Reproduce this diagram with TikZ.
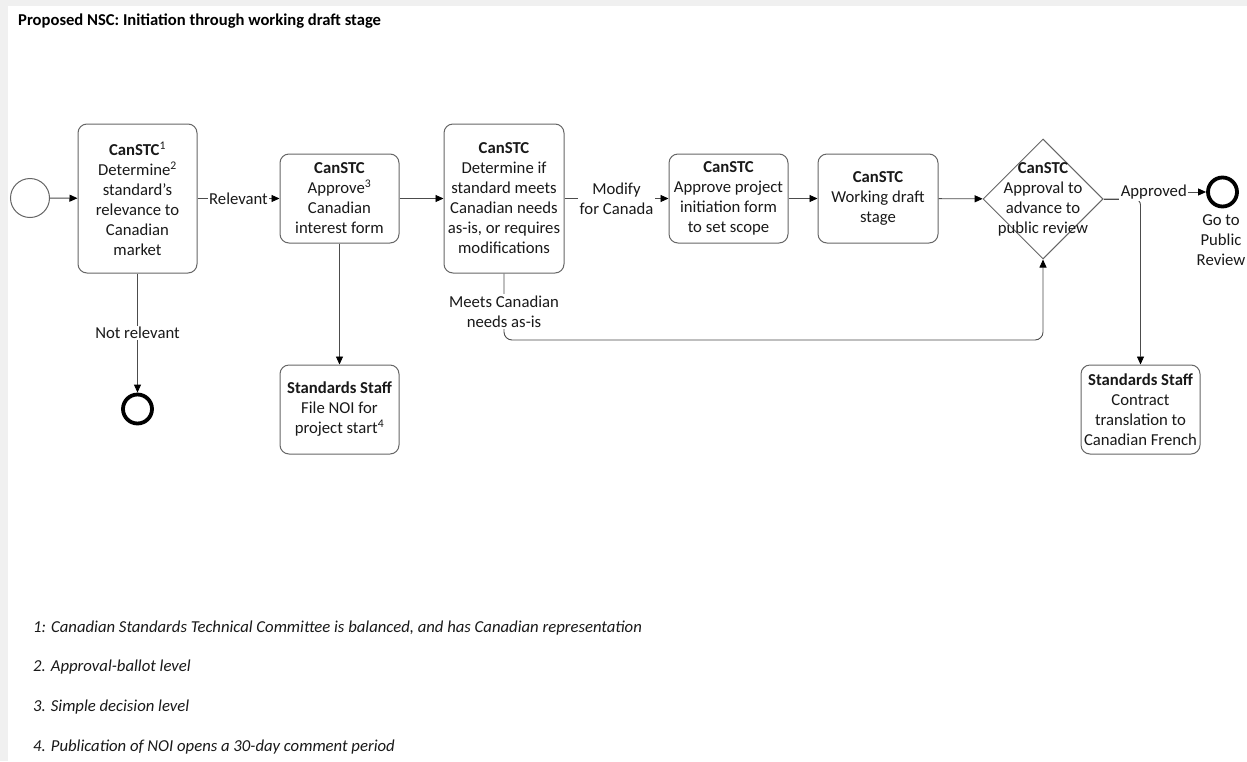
\documentclass[tikz,border=0pt]{standalone}
\usepackage{fontspec}
\setmainfont{Carlito}
\usetikzlibrary{arrows.meta,shapes.geometric}
\newcommand\mainfs{\fontsize{16.7}{20}\selectfont}
\tikzset{
  box/.style={draw=black!60, line width=1pt, rounded corners=9pt, fill=white,
    align=center, font=\mainfs, inner sep=0pt, text=black!90},
  lbl/.style={fill=white, inner sep=1.5pt, align=center, font=\mainfs, text=black!90},
  conn/.style={draw=black!70, line width=0.9pt},
  arr/.style={conn, -{Triangle[length=8pt,width=7pt,color=black]}},
  endev/.style={circle, draw=black, line width=3.8pt, minimum size=29pt, inner sep=0pt},
}
\begin{document}
\begin{tikzpicture}[x=1pt,y=-1pt]
\useasboundingbox (0,0) rectangle (1247,761);
\fill[black!6] (0,0) rectangle (1247,761);
\fill[white] (8,6) rectangle (1247,761);

\node[anchor=west, font=\fontsize{16.6}{19}\selectfont\bfseries, inner sep=1pt] (title) at (17,21) {Proposed NSC: Initiation through working draft stage};

% nodes
\node[circle, draw=black!60, line width=1pt, minimum size=39pt, inner sep=0pt] (s) at (30,198) {};
\node[box, minimum width=119pt, minimum height=149pt] (b1) at (137.5,198.5)
  {\textbf{CanSTC}\textsuperscript{1}\\Determine\textsuperscript{2}\\standard’s\\relevance to\\Canadian\\market};
\node[box, minimum width=119pt, minimum height=89pt] (b2) at (339.5,198.5)
  {\textbf{CanSTC}\\Approve\textsuperscript{3}\\Canadian\\interest form};
\node[box, minimum width=120pt, minimum height=149pt] (b3) at (504,198.5)
  {\textbf{CanSTC}\\Determine if\\standard meets\\Canadian needs\\as-is, or requires\\modifications};
\node[box, minimum width=119pt, minimum height=89pt] (b4) at (728.5,198.5)
  {\textbf{CanSTC}\\Approve project\\initiation form\\to set scope};
\node[box, minimum width=120pt, minimum height=89pt] (b5) at (878,198.5)
  {\textbf{CanSTC}\\Working draft\\stage};
\node[diamond, draw=black!60, line width=1pt, minimum width=120pt, minimum height=120pt, inner sep=0pt] (d) at (1043,199) {};
\node[align=center, font=\mainfs, text=black!90] (dt) at (1043,199)
  {\textbf{CanSTC}\\Approval to\\advance to\\public review};
\node[endev] (e1) at (1222.5,192) {};
\node[align=center, font=\mainfs, text=black!90, anchor=north] (e1t) at (1221,211) {Go to\\Public\\Review};
\node[endev] (e2) at (137.5,409) {};
\node[box, minimum width=119pt, minimum height=89pt] (ss1) at (339.5,409.5)
  {\textbf{Standards Staff}\\File NOI for\\project start\textsuperscript{4}};
\node[box, minimum width=119pt, minimum height=89pt] (ss2) at (1140.5,409.5)
  {\textbf{Standards Staff}\\Contract\\translation to\\Canadian French};

% connectors
\draw[arr] (s) -- (b1);
\draw[arr] (b1) -- node[lbl]{Relevant} (b2);
\draw[arr] (b2) -- (b3);
\draw[arr] (b3) -- node[lbl]{Modify\\for Canada} (b4);
\draw[arr] (b4) -- (b5);
\draw[arr] (b5) -- (d);
\draw[arr] (b1) -- node[lbl]{Not relevant} (e2);
\draw[arr] (b2) -- (ss1);
\coordinate (m) at (504,340);
\draw[arr, rounded corners=8pt] (b3.south) -- node[lbl, pos=0.57]{Meets Canadian\\needs as-is} (m) -| (d.south);
\draw[arr, rounded corners=6pt] (d.east) -- (1140.5,199) -- (ss2.north);
\draw[arr] (d.east) -- (1128,199) -- (1128,192) -- node[lbl, pos=0.33]{Approved} (e1.west);

% footnotes
\begin{scope}[every node/.style={anchor=west, font=\fontsize{16.7}{19}\selectfont\itshape, text=black!90, inner sep=1pt}]
\node (f1) at (32,628) {1: Canadian Standards Technical Committee is balanced, and has Canadian representation};
\node (f2) at (32,667) {2. Approval-ballot level};
\node (f3) at (32,707) {3. Simple decision level};
\node (f4) at (32,747) {4. Publication of NOI opens a 30-day comment period};
\end{scope}
\end{tikzpicture}
\end{document}
